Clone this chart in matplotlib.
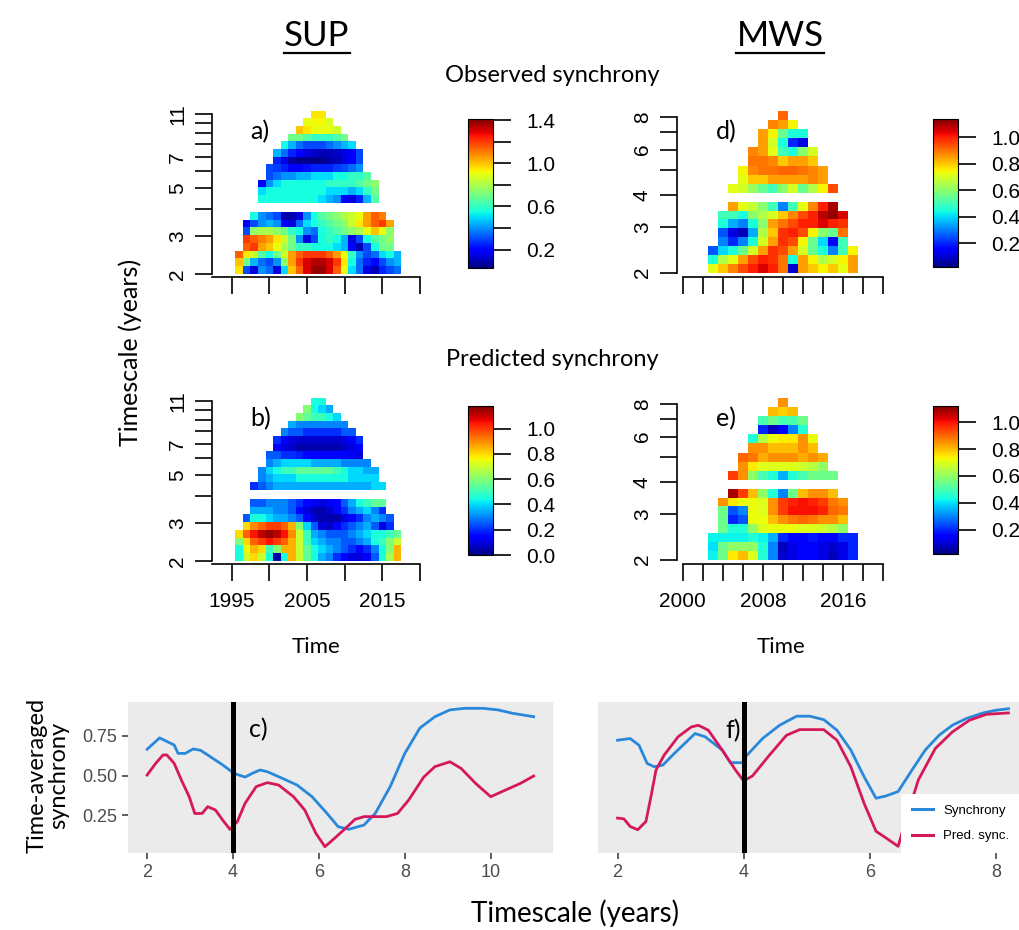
import numpy as np
import matplotlib
matplotlib.use("Agg")
import matplotlib.pyplot as plt
from matplotlib.colors import Normalize
from matplotlib.cm import ScalarMappable
from matplotlib.lines import Line2D

# ======================= DATA =======================
sup_years = list(range(1996, 2018))
mws_years = list(range(2003, 2018))

# ---- SUP observed (panel a); rows listed top -> bottom: (first year, values)
sup_obs_up_start = [2006, 2005, 2004, 2003, 2002, 2001, 2001, 2000, 2000, 1999, 1999, 1999]
sup_obs_up = [
    [0.95, 0.95],
    [0.9, 0.92, 0.92, 0.88],
    [1.0, 0.95, 0.9, 0.9, 0.9, 0.85],
    [0.7, 0.7, 0.65, 0.6, 0.6, 0.6, 0.65, 0.7],
    [0.55, 0.45, 0.35, 0.3, 0.3, 0.3, 0.35, 0.4, 0.45, 0.5],
    [0.45, 0.35, 0.25, 0.2, 0.15, 0.12, 0.1, 0.1, 0.12, 0.15, 0.2, 0.3],
    [0.25, 0.15, 0.08, 0.05, 0.05, 0.05, 0.05, 0.08, 0.1, 0.15, 0.2, 0.3],
    [0.3, 0.28, 0.25, 0.2, 0.2, 0.22, 0.25, 0.25, 0.25, 0.28, 0.3, 0.35, 0.4],
    [0.3, 0.35, 0.4, 0.4, 0.45, 0.45, 0.5, 0.5, 0.5, 0.55, 0.55, 0.6, 0.6, 0.65],
    [0.2, 0.4, 0.5, 0.55, 0.55, 0.55, 0.55, 0.55, 0.55, 0.6, 0.6, 0.6, 0.6, 0.65, 0.7, 0.75],
    [0.5, 0.55, 0.55, 0.55, 0.55, 0.55, 0.55, 0.55, 0.55, 0.5, 0.5, 0.5, 0.45, 0.5, 0.6, 0.7],
    [0.55, 0.55, 0.55, 0.55, 0.55, 0.55, 0.55, 0.55, 0.5, 0.45, 0.4, 0.2, 0.15, 0.25, 0.45, 0.65],
]
sup_obs_lo_start = [1998, 1997, 1997, 1997, 1997, 1996, 1996, 1996]
sup_obs_lo = [
    [0.55, 0.4, 0.35, 0.3, 0.1, 0.08, 0.15, 0.4, 0.55, 0.65, 0.7, 0.75, 0.8, 0.85, 0.9, 1.05, 1.15, 1.1],
    [0.2, 0.3, 0.4, 0.45, 0.4, 0.2, 0.15, 0.35, 0.5, 0.55, 0.6, 0.65, 0.7, 0.75, 0.85, 0.95, 1.05, 1.15, 1.2, 1.05],
    [0.3, 0.75, 0.8, 0.8, 0.75, 0.7, 0.6, 0.55, 0.4, 0.35, 0.55, 0.6, 0.65, 0.7, 0.75, 0.8, 0.9, 1.0, 0.9, 0.75],
    [1.2, 1.15, 1.1, 1.05, 0.95, 0.85, 0.7, 0.4, 0.15, 0.3, 0.55, 0.6, 0.55, 0.45, 0.15, 0.3, 0.55, 0.65, 0.7, 0.75],
    [1.15, 1.2, 1.05, 1.0, 0.9, 0.8, 0.7, 0.6, 0.6, 0.55, 0.55, 0.55, 0.5, 0.45, 0.2, 0.1, 0.3, 0.55, 0.7, 0.7],
    [1.15, 0.95, 0.85, 0.65, 0.55, 0.7, 0.85, 1.05, 1.15, 1.2, 1.2, 1.2, 1.15, 1.05, 0.9, 0.6, 0.4, 0.3, 0.35, 0.5, 0.55, 0.45],
    [1.0, 0.7, 0.45, 0.35, 0.3, 0.4, 0.75, 1.05, 1.2, 1.3, 1.35, 1.35, 1.3, 1.2, 0.95, 0.55, 0.35, 0.25, 0.2, 0.3, 0.4, 0.45],
    [0.95, 0.3, 0.15, 0.4, 0.35, 0.15, 0.5, 1.0, 1.15, 1.3, 1.38, 1.38, 1.3, 1.15, 0.9, 0.5, 0.35, 0.15, 0.1, 0.25, 0.3, 0.35],
]

# ---- SUP predicted (panel b)
sup_pred_up_start = [2006, 2005, 2004, 2003, 2002, 2001, 2001, 2000, 2000, 1999, 1999, 1998]
sup_pred_up = [
    [0.45, 0.45],
    [0.6, 0.45, 0.4, 0.35],
    [0.6, 0.55, 0.5, 0.5, 0.45, 0.4],
    [0.35, 0.3, 0.3, 0.3, 0.3, 0.3, 0.3, 0.3],
    [0.3, 0.25, 0.25, 0.2, 0.2, 0.2, 0.2, 0.2, 0.25, 0.25],
    [0.2, 0.15, 0.1, 0.08, 0.08, 0.08, 0.08, 0.08, 0.08, 0.1, 0.15, 0.2],
    [0.15, 0.1, 0.08, 0.05, 0.05, 0.05, 0.05, 0.05, 0.05, 0.08, 0.1, 0.15],
    [0.25, 0.25, 0.2, 0.2, 0.18, 0.15, 0.15, 0.15, 0.15, 0.15, 0.15, 0.12, 0.1],
    [0.3, 0.35, 0.4, 0.4, 0.4, 0.4, 0.35, 0.35, 0.35, 0.35, 0.3, 0.3, 0.3, 0.3],
    [0.3, 0.4, 0.45, 0.5, 0.5, 0.55, 0.55, 0.55, 0.55, 0.55, 0.5, 0.45, 0.4, 0.4, 0.35, 0.35],
    [0.3, 0.35, 0.4, 0.4, 0.4, 0.45, 0.45, 0.45, 0.45, 0.45, 0.45, 0.45, 0.4, 0.4, 0.4, 0.4],
    [0.2, 0.25, 0.3, 0.35, 0.35, 0.35, 0.35, 0.35, 0.35, 0.35, 0.35, 0.35, 0.35, 0.35, 0.35, 0.35, 0.4, 0.4],
]
sup_pred_lo_start = [1998, 1998, 1997, 1997, 1996, 1996, 1996, 1996]
sup_pred_lo = [
    [0.25, 0.25, 0.3, 0.3, 0.3, 0.25, 0.2, 0.15, 0.12, 0.1, 0.12, 0.15, 0.25, 0.35, 0.45, 0.5, 0.55, 0.55],
    [0.35, 0.35, 0.35, 0.3, 0.3, 0.25, 0.15, 0.1, 0.05, 0.05, 0.08, 0.15, 0.2, 0.3, 0.35, 0.4, 0.3, 0.2],
    [0.25, 0.45, 0.45, 0.4, 0.35, 0.35, 0.3, 0.25, 0.15, 0.08, 0.05, 0.05, 0.05, 0.1, 0.15, 0.2, 0.3, 0.35, 0.3, 0.25],
    [0.8, 0.9, 0.95, 1.0, 1.0, 0.95, 0.85, 0.6, 0.4, 0.25, 0.1, 0.08, 0.15, 0.2, 0.25, 0.3, 0.35, 0.25, 0.1, 0.2],
    [0.8, 0.95, 1.05, 1.12, 1.15, 1.12, 1.05, 0.9, 0.7, 0.5, 0.35, 0.3, 0.25, 0.25, 0.25, 0.3, 0.35, 0.4, 0.45, 0.45, 0.5, 0.55],
    [0.6, 0.8, 0.95, 1.0, 1.05, 1.0, 0.95, 0.85, 0.7, 0.5, 0.4, 0.35, 0.3, 0.3, 0.25, 0.25, 0.3, 0.35, 0.45, 0.5, 0.6, 0.7],
    [0.45, 0.75, 0.85, 0.8, 0.5, 0.6, 0.85, 0.85, 0.7, 0.55, 0.45, 0.4, 0.35, 0.3, 0.25, 0.2, 0.15, 0.2, 0.3, 0.45, 0.6, 0.85],
    [0.45, 0.7, 0.8, 0.7, 0.45, 0.05, 0.45, 0.85, 0.7, 0.55, 0.45, 0.35, 0.3, 0.2, 0.15, 0.1, 0.1, 0.15, 0.25, 0.45, 0.65, 0.85],
]

# ---- MWS observed (panel d)
mws_up_start = [2010, 2009, 2008, 2008, 2007, 2007, 2006, 2006, 2005]
mws_lo_start = [2005, 2004, 2004, 2004, 2004, 2003, 2003, 2003]
mws_obs_up = [
    [0.92],
    [0.88, 0.85, 0.75],
    [0.85, 0.75, 0.55, 0.45, 0.45],
    [0.85, 0.7, 0.45, 0.2, 0.12],
    [0.88, 0.85, 0.72, 0.5, 0.45, 0.6, 0.7],
    [0.9, 0.9, 0.88, 0.8, 0.85, 0.85, 0.8],
    [0.75, 0.88, 0.9, 0.9, 0.92, 0.92, 0.9, 0.88, 0.85],
    [0.72, 0.8, 0.8, 0.85, 0.85, 0.85, 0.85, 0.88, 0.85],
    [0.72, 0.7, 0.62, 0.55, 0.5, 0.6, 0.7, 0.55, 0.65, 0.75, 0.95],
]
mws_obs_lo = [
    [0.85, 0.72, 0.68, 0.6, 0.5, 0.3, 0.5, 0.72, 0.88, 1.0, 1.1],
    [0.5, 0.5, 0.45, 0.6, 0.65, 0.7, 0.8, 0.88, 0.95, 1.0, 1.08, 1.12, 1.05],
    [0.45, 0.35, 0.3, 0.45, 0.6, 0.85, 0.9, 0.95, 1.0, 1.0, 1.05, 1.0, 0.98],
    [0.25, 0.12, 0.08, 0.35, 0.65, 0.8, 0.98, 1.0, 0.95, 0.75, 0.6, 0.55, 0.9],
    [0.3, 0.2, 0.3, 0.45, 0.7, 0.85, 0.98, 0.95, 0.75, 0.55, 0.4, 0.15, 0.5],
    [0.25, 0.4, 0.45, 0.55, 0.7, 0.85, 0.98, 0.95, 0.85, 0.7, 0.55, 0.45, 0.3, 0.5, 0.75],
    [0.45, 0.65, 0.72, 0.85, 0.95, 1.0, 0.98, 0.9, 0.45, 0.85, 0.75, 0.65, 0.7, 0.75, 0.85],
    [0.72, 0.8, 0.88, 0.95, 1.0, 1.05, 1.0, 0.9, 0.1, 0.85, 0.8, 0.75, 0.8, 0.72, 0.85],
]

# ---- MWS predicted (panel e)
mws_pred_up = [
    [0.85],
    [0.8, 0.78, 0.8],
    [0.5, 0.55, 0.5, 0.5, 0.55],
    [0.2, 0.08, 0.15, 0.3, 0.45],
    [0.45, 0.65, 0.72, 0.75, 0.75, 0.85, 0.72],
    [0.85, 0.85, 0.8, 0.8, 0.8, 0.85, 0.8],
    [0.9, 0.88, 0.82, 0.85, 0.85, 0.85, 0.82, 0.85, 0.82],
    [0.85, 0.75, 0.7, 0.7, 0.7, 0.7, 0.68, 0.65, 0.6],
    [0.95, 0.85, 0.6, 0.5, 0.45, 0.35, 0.45, 0.5, 0.55, 0.55, 0.55],
]
mws_pred_lo = [
    [1.08, 0.95, 0.8, 0.6, 0.45, 0.3, 0.55, 0.8, 0.85, 0.85, 0.8],
    [0.85, 0.75, 0.72, 0.72, 0.7, 0.85, 0.95, 0.98, 1.0, 0.98, 0.95, 0.88, 0.85],
    [0.55, 0.25, 0.3, 0.72, 0.7, 0.85, 0.95, 1.0, 1.0, 1.0, 0.98, 0.9, 0.88],
    [0.55, 0.2, 0.25, 0.72, 0.72, 0.8, 0.85, 0.88, 0.9, 0.88, 0.85, 0.85, 0.8],
    [0.55, 0.45, 0.45, 0.6, 0.7, 0.72, 0.72, 0.72, 0.7, 0.7, 0.68, 0.65, 0.6],
    [0.42, 0.42, 0.42, 0.42, 0.45, 0.42, 0.35, 0.2, 0.15, 0.15, 0.18, 0.15, 0.15, 0.2, 0.2],
    [0.4, 0.55, 0.6, 0.6, 0.6, 0.45, 0.3, 0.08, 0.12, 0.15, 0.15, 0.12, 0.1, 0.12, 0.2],
    [0.42, 0.55, 0.75, 0.8, 0.7, 0.45, 0.3, 0.1, 0.12, 0.15, 0.15, 0.12, 0.08, 0.12, 0.2],
]

# ---- time-averaged synchrony (panels c, f)
c_sync_ts = [2.0, 2.29, 2.63, 2.72, 2.89, 3.07, 3.24, 3.41, 3.76, 4.02, 4.28, 4.45, 4.63, 4.8,
             5.15, 5.49, 5.84, 6.19, 6.45, 6.7, 7.05, 7.31, 7.66, 8.0, 8.35, 8.7, 9.05, 9.39,
             9.82, 10.17, 10.52, 11.0]
c_sync = [0.666, 0.738, 0.693, 0.64, 0.64, 0.668, 0.66, 0.63, 0.567, 0.514, 0.49, 0.514, 0.535,
          0.524, 0.482, 0.44, 0.366, 0.26, 0.176, 0.16, 0.187, 0.26, 0.43, 0.64, 0.80, 0.872,
          0.915, 0.925, 0.925, 0.915, 0.893, 0.872]
c_pred_ts = [2.0, 2.2, 2.37, 2.46, 2.63, 2.8, 2.98, 3.11, 3.28, 3.41, 3.59, 3.76, 3.93, 4.1, 4.28,
             4.54, 4.8, 5.06, 5.41, 5.67, 5.93, 6.14, 6.36, 6.62, 6.84, 7.05, 7.57, 7.83, 8.09,
             8.44, 8.7, 9.05, 9.31, 9.65, 10.0, 10.26, 10.69, 11.0]
c_pred = [0.503, 0.577, 0.63, 0.63, 0.577, 0.47, 0.366, 0.26, 0.26, 0.303, 0.282, 0.218, 0.159,
          0.208, 0.324, 0.43, 0.455, 0.44, 0.366, 0.282, 0.134, 0.05, 0.102, 0.166, 0.223, 0.24,
          0.24, 0.26, 0.345, 0.49, 0.556, 0.587, 0.545, 0.45, 0.366, 0.398, 0.45, 0.497]

f_sync_ts = [2.0, 2.2, 2.34, 2.47, 2.58, 2.72, 2.9, 3.23, 3.39, 3.66, 3.79, 3.98, 4.03, 4.3, 4.57,
             4.84, 5.05, 5.27, 5.48, 5.7, 5.91, 6.1, 6.26, 6.45, 6.67, 6.88, 7.1, 7.31, 7.53, 7.8,
             8.0, 8.2]
f_sync = [0.719, 0.73, 0.687, 0.57, 0.549, 0.56, 0.634, 0.762, 0.741, 0.656, 0.575, 0.575, 0.613,
          0.73, 0.815, 0.873, 0.873, 0.851, 0.783, 0.656, 0.485, 0.347, 0.362, 0.39, 0.528, 0.656,
          0.751, 0.815, 0.858, 0.894, 0.911, 0.921]
f_pred_ts = [2.0, 2.1, 2.2, 2.32, 2.45, 2.53, 2.61, 2.74, 2.96, 3.17, 3.28, 3.44, 3.66, 3.87, 4.0,
             4.14, 4.41, 4.68, 4.89, 5.27, 5.48, 5.7, 5.91, 6.1, 6.26, 6.45, 6.59, 6.77, 7.04, 7.31,
             7.58, 7.85, 8.2]
f_pred = [0.22, 0.215, 0.166, 0.145, 0.198, 0.358, 0.528, 0.624, 0.741, 0.804, 0.815, 0.783, 0.656,
          0.528, 0.458, 0.49, 0.624, 0.751, 0.787, 0.787, 0.719, 0.549, 0.315, 0.135, 0.092, 0.039,
          0.23, 0.464, 0.666, 0.772, 0.847, 0.885, 0.894]

sup_xticks = [1995, 2000, 2005, 2010, 2015, 2020]
sup_xlabels = ["1995", "", "2005", "", "2015", ""]
mws_xticks = [2000, 2002, 2004, 2006, 2008, 2010, 2012, 2014, 2016, 2018, 2020]
mws_xlabels = ["2000", "", "", "", "2008", "", "", "", "2016", "", ""]
sup_yticks = [2, 3, 4, 5, 6, 7, 8, 9, 10, 11]
sup_ylabels = ["2", "3", "", "5", "", "7", "", "", "", "11"]
mws_yticks = [2, 3, 4, 5, 6, 7, 8]
mws_ylabels = ["2", "3", "4", "", "6", "", "8"]

# ======================= FIGURE =======================
W, H = 1020, 930
fig = plt.figure(figsize=(W / 100, H / 100), dpi=100)
fig.patch.set_facecolor("white")

CAL = ["Lato", "DejaVu Sans"]
ARN = ["Liberation Sans Narrow", "Liberation Sans", "DejaVu Sans"]
ARI = ["Liberation Sans", "DejaVu Sans"]


def fax(x0, y0, x1, y1):
    return fig.add_axes([x0 / W, 1 - y1 / H, (x1 - x0) / W, (y1 - y0) / H])


def ftext(x, y, s, **kw):
    return fig.text(x / W, 1 - y / H, s, **kw)


def build(years, starts, rows):
    Z = np.full((len(rows), len(years)), np.nan)
    for i, (s, vals) in enumerate(zip(starts, rows)):
        j = years.index(s)
        Z[i, j:j + len(vals)] = vals
    return np.ma.masked_invalid(Z[::-1])


def heat(box, years, lo_edges, up_edges, lo_start, lo_rows, up_start, up_rows, norm,
         xlim, ylim, xticks, xlabels, yticks, ylabels, xspan, yspan):
    ax = fax(*box)
    xe = np.array(years + [years[-1] + 1], dtype=float) - 0.5
    for edges, st, rows in ((lo_edges, lo_start, lo_rows), (up_edges, up_start, up_rows)):
        ax.pcolormesh(xe, edges, build(years, st, rows), cmap="jet", norm=norm,
                      shading="flat", antialiased=False, linewidth=0)
    ax.set_yscale("log")
    ax.set_xlim(*xlim)
    ax.set_ylim(*ylim)
    for s in ("top", "right"):
        ax.spines[s].set_visible(False)
    ax.spines["left"].set_bounds(*yspan)
    ax.spines["bottom"].set_bounds(*xspan)
    for s in ("left", "bottom"):
        ax.spines[s].set_linewidth(1.2)
    ax.set_xticks(xticks)
    ax.set_xticklabels(xlabels, fontfamily=ARN, fontsize=15)
    ax.set_yticks(yticks)
    ax.set_yticklabels(ylabels, fontfamily=ARN, fontsize=15)
    ax.minorticks_off()
    ax.tick_params(direction="out", length=12, width=1.2, colors="black")
    ax.tick_params(axis="x", pad=8)
    ax.tick_params(axis="y", pad=6)
    for lab in ax.get_yticklabels():
        lab.set_rotation(90)
        lab.set_va("center")
        lab.set_ha("right")
    ax.set_facecolor("none")
    return ax


def cbar(box, norm, ticks, labels):
    cax = fax(*box)
    cb = fig.colorbar(ScalarMappable(norm=norm, cmap="jet"), cax=cax)
    cb.set_ticks(ticks)
    cb.set_ticklabels(labels)
    cb.outline.set_linewidth(0.8)
    cax.tick_params(length=13, width=1.2, pad=11, labelsize=15)
    for lab in cax.get_yticklabels():
        lab.set_fontfamily(ARI)
    cax.minorticks_off()
    return cb


sup_lo_edges = np.geomspace(2.0, 3.89, 9)
sup_up_edges = np.geomspace(4.28, 11.45, 13)
mws_lo_edges = np.geomspace(2.0, 3.77, 9)
mws_up_edges = np.geomspace(4.08, 8.49, 10)

na = Normalize(0.03, 1.41)
nb = Normalize(0.0, 1.18)
nd = Normalize(0.02, 1.14)
ne = Normalize(0.02, 1.12)

heat((212, 111, 420, 277), sup_years, sup_lo_edges, sup_up_edges, sup_obs_lo_start, sup_obs_lo,
     sup_obs_up_start, sup_obs_up, na, (1992.4, 2020.0), (1.937, 11.41), sup_xticks,
     [""] * len(sup_xticks), sup_yticks, sup_ylabels, (1992.4, 2020), (2, 11))
heat((212, 398, 420, 564), sup_years, sup_lo_edges, sup_up_edges, sup_pred_lo_start, sup_pred_lo,
     sup_pred_up_start, sup_pred_up, nb, (1992.4, 2020.0), (1.937, 11.41), sup_xticks,
     sup_xlabels, sup_yticks, sup_ylabels, (1992.4, 2020), (2, 11))
heat((677, 110, 888, 277), mws_years, mws_lo_edges, mws_up_edges, mws_lo_start, mws_obs_lo,
     mws_up_start, mws_obs_up, nd, (1999.43, 2020.5), (1.925, 8.55), mws_xticks,
     [""] * len(mws_xticks), mws_yticks, mws_ylabels, (2000, 2020), (2, 8))
heat((677, 397, 888, 564), mws_years, mws_lo_edges, mws_up_edges, mws_lo_start, mws_pred_lo,
     mws_up_start, mws_pred_up, ne, (1999.43, 2020.5), (1.925, 8.55), mws_xticks,
     mws_xlabels, mws_yticks, mws_ylabels, (2000, 2020), (2, 8))

cbar((468, 119, 493, 268), na, [0.2, 0.4, 0.6, 0.8, 1.0, 1.2, 1.4],
     ["0.2", "", "0.6", "", "1.0", "", "1.4"])
cbar((468, 406, 493, 555), nb, [0.0, 0.2, 0.4, 0.6, 0.8, 1.0],
     ["0.0", "0.2", "0.4", "0.6", "0.8", "1.0"])
cbar((933, 119, 958, 267), nd, [0.2, 0.4, 0.6, 0.8, 1.0], ["0.2", "0.4", "0.6", "0.8", "1.0"])
cbar((933, 406, 958, 554), ne, [0.2, 0.4, 0.6, 0.8, 1.0], ["0.2", "0.4", "0.6", "0.8", "1.0"])

# ---- bottom panels (ggplot style)
BLUE, RED = "#2A88DA", "#D5185C"


def ggpanel(box, xlim, ylim, xticks, yticks, ylabels):
    ax = fax(*box)
    ax.set_facecolor("#EBEBEB")
    for s in ax.spines.values():
        s.set_visible(False)
    ax.set_xlim(*xlim)
    ax.set_ylim(*ylim)
    ax.set_xticks(xticks)
    ax.set_xticklabels([str(t) for t in xticks], fontfamily=ARI, fontsize=13, color="#4D4D4D")
    ax.set_yticks(yticks)
    ax.set_yticklabels(ylabels, fontfamily=ARI, fontsize=13, color="#4D4D4D")
    ax.tick_params(length=4, width=1.1, color="#333333", pad=4)
    return ax


axc = ggpanel((128, 702, 553, 853), (1.555, 11.45), (0.01, 0.965), [2, 4, 6, 8, 10],
              [0.25, 0.5, 0.75], ["0.25", "0.50", "0.75"])
axc.plot(c_sync_ts, c_sync, color=BLUE, lw=2.0)
axc.plot(c_pred_ts, c_pred, color=RED, lw=2.0)
axc.axvline(4, color="black", lw=3.6)
axc.text(4.38, 0.79, "c)", fontfamily=CAL, fontsize=18, va="center", ha="left")

axf = ggpanel((598, 702, 1028, 853), (1.69, 8.51), (-0.004, 0.964), [2, 4, 6, 8], [], [])
axf.plot(f_sync_ts, f_sync, color=BLUE, lw=2.0)
axf.plot(f_pred_ts, f_pred, color=RED, lw=2.0)
axf.axvline(4, color="black", lw=3.6)
axf.text(3.95, 0.78, "f)", fontfamily=CAL, fontsize=18, va="center", ha="right")
handles = [Line2D([], [], color=BLUE, lw=2.2), Line2D([], [], color=RED, lw=2.2)]
leg = axf.legend(handles, ["Synchrony", "Pred. sync."], loc="lower right",
                 bbox_to_anchor=(1.0, (930 - 853) / H), bbox_transform=fig.transFigure,
                 frameon=True, fancybox=False, framealpha=1, facecolor="white",
                 edgecolor="none", prop={"family": ARI, "size": 9.5}, handlelength=1.6,
                 handletextpad=0.8, borderpad=0.8, labelspacing=1.0, borderaxespad=0)

# ---- texts
t1 = ftext(317, 36, "SUP", fontfamily=CAL, fontsize=25, ha="center", va="center")
t2 = ftext(780, 36, "MWS", fontfamily=CAL, fontsize=25, ha="center", va="center")
ftext(552, 75, "Observed synchrony", fontfamily=CAL, fontsize=17, ha="center", va="center")
ftext(552, 360, "Predicted synchrony", fontfamily=CAL, fontsize=17, ha="center", va="center")
ftext(130, 352, "Timescale (years)", fontfamily=CAL, fontsize=18, ha="center", va="center",
      rotation=90)
ftext(250, 132, "a)", fontfamily=CAL, fontsize=18, ha="left", va="center")
ftext(250, 419, "b)", fontfamily=CAL, fontsize=18, ha="left", va="center")
ftext(716, 132, "d)", fontfamily=CAL, fontsize=18, ha="left", va="center")
ftext(716, 419, "e)", fontfamily=CAL, fontsize=18, ha="left", va="center")
ftext(316, 647, "Time", fontfamily=CAL, fontsize=16, ha="center", va="center")
ftext(781, 647, "Time", fontfamily=CAL, fontsize=16, ha="center", va="center")
ftext(48, 775, "Time-averaged\nsynchrony", fontfamily=CAL, fontsize=17, ha="center",
      va="center", rotation=90, linespacing=1.0)
ftext(575, 913, "Timescale (years)", fontfamily=CAL, fontsize=20, ha="center", va="center")

# underline titles
fig.canvas.draw()
r = fig.canvas.get_renderer()
for t in (t1, t2):
    bb = t.get_window_extent(r)
    y = bb.y0 - 1
    fig.add_artist(Line2D([bb.x0 / W, bb.x1 / W], [y / H, y / H], color="black", lw=1.6,
                          transform=fig.transFigure))

fig.savefig("out.png", dpi=100, facecolor="white")
